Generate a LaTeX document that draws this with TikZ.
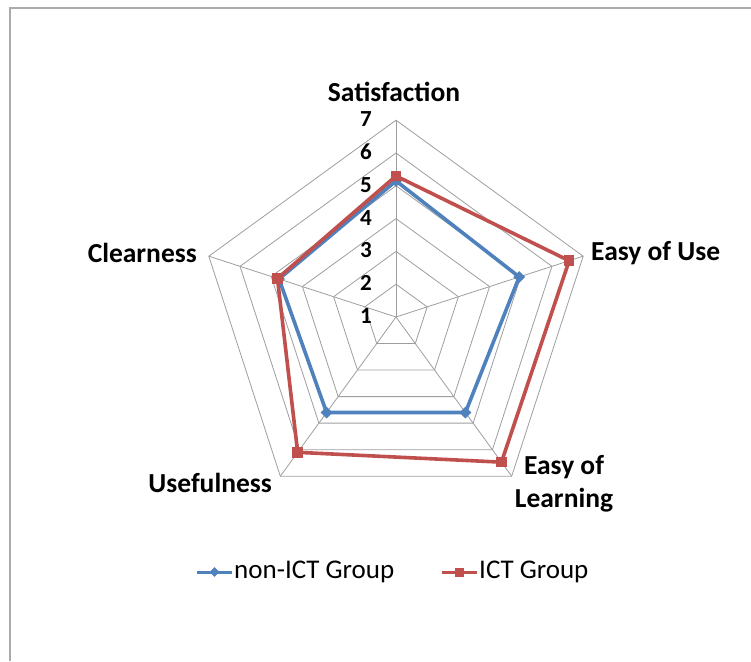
\documentclass[tikz,border=0pt]{standalone}
\usepackage{fontspec}
\setmainfont{Carlito}
\usetikzlibrary{shapes.geometric}
\definecolor{gridgray}{HTML}{9E9E9E}
\definecolor{framegray}{HTML}{ABABAB}
\definecolor{nonictblue}{HTML}{4F81BD}
\definecolor{ictred}{HTML}{C0504D}
\begin{document}
\begin{tikzpicture}[x=1pt, y=1pt,
    gridline/.style={draw=gridgray, line width=0.8pt},
    series/.style={line width=3.6pt, line join=round},
    sqmark/.style={rectangle, fill=ictred, minimum size=10.5pt, inner sep=0pt},
    dmmark/.style={diamond, fill=nonictblue, minimum size=12pt, inner sep=0pt},
    catlabel/.style={font=\fontsize{27.5}{33}\selectfont\bfseries, inner sep=0pt, align=center},
    numlabel/.style={font=\fontsize{23}{27}\selectfont\bfseries, inner sep=0pt, anchor=east},
    legtext/.style={font=\fontsize{27}{32}\selectfont, inner sep=0pt, anchor=west}]
    \useasboundingbox (-396,-344) rectangle (355,317);
    \draw[framegray, line width=1.5pt] (355,309) -- (-386,309) -- (-386,-344);

    % rings and spokes
    \foreach \k [evaluate=\k as \r using (\k-1)*32.8] in {2,...,7}
        \draw[gridline] (90:\r) -- (18:\r) -- (-54:\r) -- (-126:\r) -- (162:\r) -- cycle;
    \foreach \a in {90,18,-54,-126,162}
        \draw[gridline] (0,0) -- (\a:196.8);
    \foreach \k [evaluate=\k as \r using (\k-1)*32.8+1] in {1,...,7}
        \node[numlabel] (n\k) at (-24,\r) {\k};

    \node[catlabel] (sat) at (-2,225) {Satisfaction};
    \node[catlabel, anchor=west] (eou) at (195,64) {Easy of Use};
    \node[catlabel] (eol) at (168,-167) {Easy of\\Learning};
    \node[catlabel, anchor=east] (use) at (-124,-166) {Usefulness};
    \node[catlabel, anchor=east] (clr) at (-199,64) {Clearness};

    % non-ICT group
    \coordinate (sat-n) at (90:{(5.15-1)*32.8});
    \coordinate (eou-n) at (18:{(4.95-1)*32.8});
    \coordinate (eol-n) at (-54:{(4.6-1)*32.8});
    \coordinate (use-n) at (-126:{(4.6-1)*32.8});
    \coordinate (clr-n) at (162:{(4.75-1)*32.8});
    \draw[series, nonictblue] (sat-n) -- (eou-n) -- (eol-n) -- (use-n) -- (clr-n) -- cycle;
    \foreach \p in {sat,eou,eol,use,clr}
        \node[dmmark] (\p-nm) at (\p-n) {};

    % ICT group
    \coordinate (sat-i) at (90:{(5.3-1)*32.8});
    \coordinate (eou-i) at (18:{(6.55-1)*32.8});
    \coordinate (eol-i) at (-54:{(6.47-1)*32.8});
    \coordinate (use-i) at (-126:{(6.1-1)*32.8});
    \coordinate (clr-i) at (162:{(4.8-1)*32.8});
    \draw[series, ictred] (sat-i) -- (eou-i) -- (eol-i) -- (use-i) -- (clr-i) -- cycle;
    \foreach \p in {sat,eou,eol,use,clr}
        \node[sqmark] (\p-im) at (\p-i) {};

    % legend
    \coordinate (leg-n-a) at (-199,-255);
    \coordinate (leg-n-b) at (-164,-255);
    \draw[nonictblue, line width=3pt] (leg-n-a) -- (leg-n-b)
        node[midway, dmmark, minimum size=11pt] (leg-n-m) {};
    \node[legtext] (leg-n-t) at (-162,-255) {non-ICT Group};
    \coordinate (leg-i-a) at (46,-255);
    \coordinate (leg-i-b) at (81,-255);
    \draw[ictred, line width=3pt] (leg-i-a) -- (leg-i-b)
        node[midway, sqmark, minimum size=9pt] (leg-i-m) {};
    \node[legtext] (leg-i-t) at (83,-255) {ICT Group};
\end{tikzpicture}
\end{document}
